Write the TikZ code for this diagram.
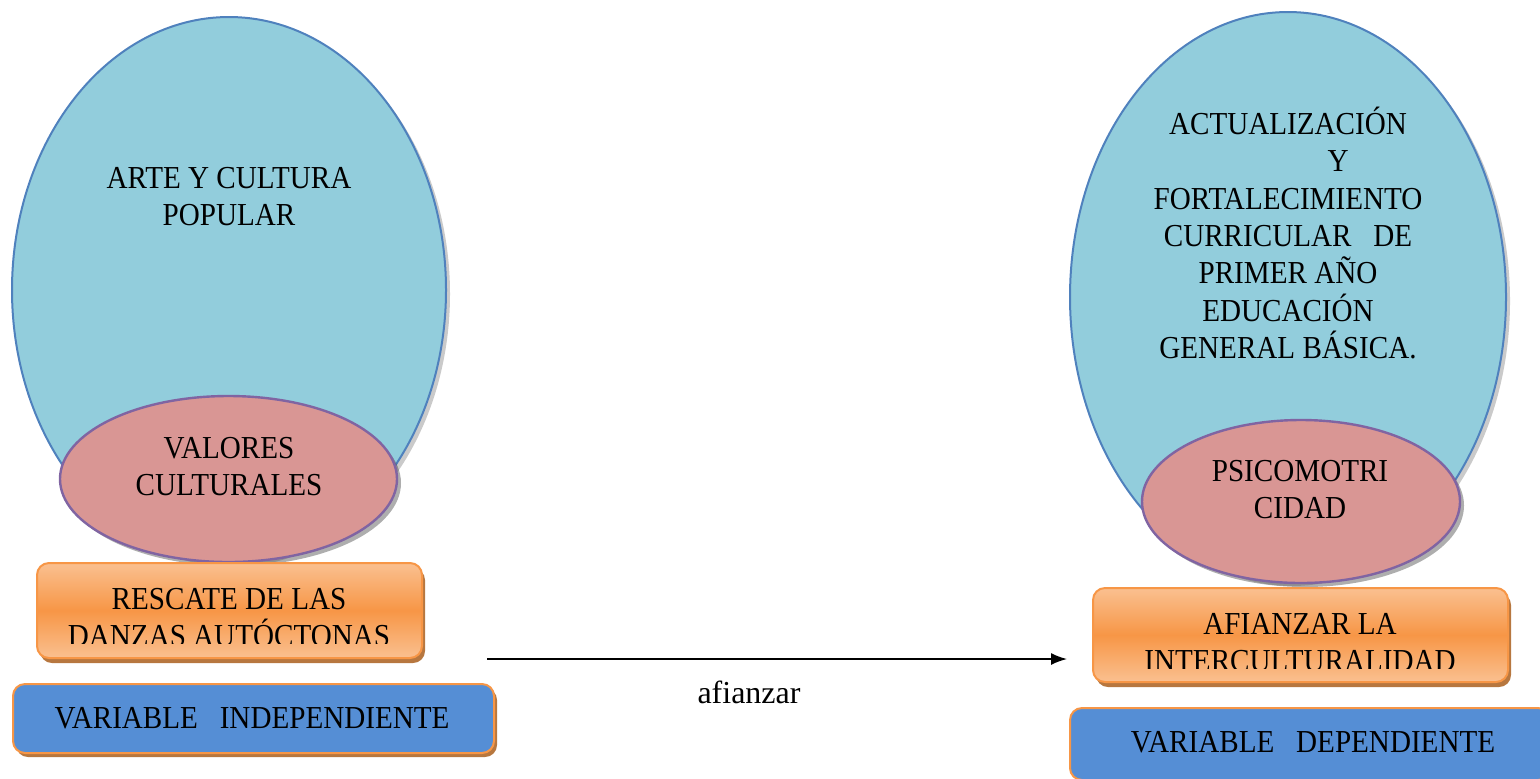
\documentclass[tikz,border=0pt]{standalone}
\usepackage{fontspec}
\setmainfont{Liberation Serif}[FakeStretch=0.91]
\newfontfamily\plainserif{Liberation Serif}
\usetikzlibrary{shapes.geometric,shadows,arrows.meta}
\definecolor{skyfill}{HTML}{92CDDC}
\definecolor{skyline}{HTML}{4F81BD}
\definecolor{rosefill}{HTML}{D99694}
\definecolor{roseline}{HTML}{8064A2}
\definecolor{orangemid}{HTML}{F79646}
\definecolor{orangelight}{HTML}{FAC090}
\definecolor{boxblue}{HTML}{558ED5}
\definecolor{shadowbrown}{HTML}{B7773F}
\tikzset{
  bigoval/.style={ellipse, draw=skyline, line width=1pt, fill=skyfill, inner sep=0pt,
    drop shadow={shadow xshift=2pt, shadow yshift=-2pt, opacity=0.35, fill=black!60}},
  smalloval/.style={ellipse, draw=roseline, line width=1.2pt, fill=rosefill, inner sep=0pt,
    drop shadow={shadow xshift=2pt, shadow yshift=-2pt, opacity=0.45, fill=black!70}},
  orangebox/.style={rectangle, rounded corners=6pt, draw=orangemid, line width=1pt,
    top color=orangelight, bottom color=orangelight, middle color=orangemid, inner sep=0pt,
    drop shadow={shadow xshift=1.5pt, shadow yshift=-2.5pt, opacity=1, fill=shadowbrown}},
  bluebox/.style={rectangle, rounded corners=6pt, draw=orangemid, line width=1pt,
    fill=boxblue, inner sep=0pt,
    drop shadow={shadow xshift=1.5pt, shadow yshift=-2pt, opacity=1, fill=shadowbrown}},
  txt/.style={font=\fontsize{16}{18.5}\selectfont, align=center, inner sep=0pt},
}
\begin{document}
\begin{tikzpicture}[x=0.5pt,y=-0.5pt]
\useasboundingbox (0,0) rectangle (1540,778);
% left side
\node[bigoval, minimum width=434*0.5pt, minimum height=546*0.5pt] (lbig) at (229,290) {};
\node[txt] (ltxt) at (229,197) {ARTE Y CULTURA\\POPULAR};
\node[smalloval, minimum width=337*0.5pt, minimum height=166*0.5pt] (lsmall) at (228.5,479) {};
\node[txt] (lstxt) at (229,467) {VALORES\\CULTURALES};
\node[orangebox, minimum width=385*0.5pt, minimum height=95*0.5pt] (lorange) at (229.5,610.5) {};
\begin{scope}
\clip (37,560) rectangle (422,643);
\node[txt] (lotxt) at (229,618) {RESCATE DE LAS\\DANZAS AUTÓCTONAS};
\end{scope}
\node[bluebox, minimum width=481*0.5pt, minimum height=69*0.5pt] (lblue) at (253.5,718.5) {};
\node[txt] (lbtxt) at (252,718) {VARIABLE\ \ \ INDEPENDIENTE};
% arrow
\coordinate (a1) at (487,659);
\coordinate (a2) at (1067,659);
\draw[line width=0.8pt, -{Latex[length=8pt,width=6pt]}] (a1) -- (a2);
\node[font=\plainserif\fontsize{16}{18}\selectfont, inner sep=0pt] (lab) at (749,692) {afianzar};
% right side
\node[bigoval, minimum width=436*0.5pt, minimum height=570*0.5pt] (rbig) at (1288,297) {};
\node[txt, font=\fontsize{16}{18.7}\selectfont] (rtxt) at (1288,233) {ACTUALIZACIÓN\\
\hspace*{50pt}Y\\FORTALECIMIENTO\\CURRICULAR\ \ \ DE\\PRIMER AÑO\\EDUCACIÓN\\GENERAL BÁSICA.};
\node[smalloval, minimum width=318*0.5pt, minimum height=163*0.5pt] (rsmall) at (1301,501.5) {};
\node[txt] (rstxt) at (1300,490) {PSICOMOTRI\\CIDAD};
\node[orangebox, minimum width=415*0.5pt, minimum height=94*0.5pt] (rorange) at (1300.5,635) {};
\begin{scope}
\clip (1093,585) rectangle (1508,668);
\node[txt] (rotxt) at (1300,643) {AFIANZAR LA\\INTERCULTURALIDAD};
\end{scope}
\node[bluebox, minimum width=480*0.5pt, minimum height=72*0.5pt] (rblue) at (1310,744) {};
\node[txt] (rbtxt) at (1313,742) {VARIABLE\ \ \ DEPENDIENTE};
\end{tikzpicture}
\end{document}
